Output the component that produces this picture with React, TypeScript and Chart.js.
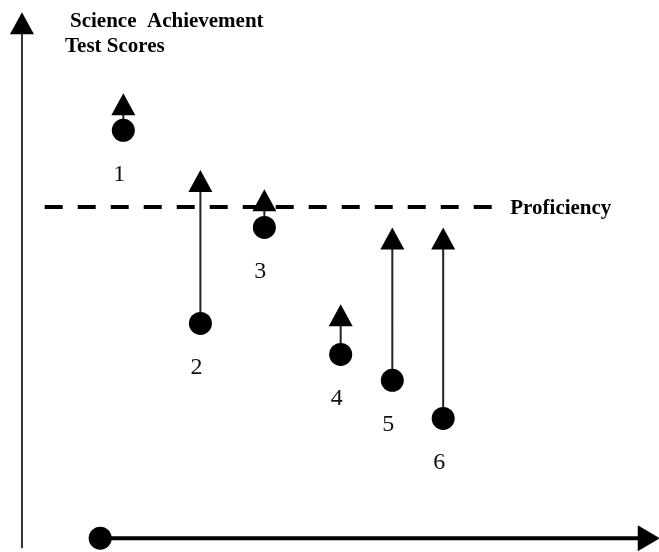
import React, { useEffect, useRef } from "react";
import { Chart, registerables } from "chart.js";

Chart.register(...registerables);

// ---- data ----
const students = ["1", "2", "3", "4", "5", "6"];
const studentX = [1, 2, 2.83, 3.82, 4.49, 5.15];
const startScores = [73.9, 38.9, 56.3, 33.3, 28.6, 21.7];
const targetScores = [80.6, 66.7, 63.2, 42.4, 56.3, 56.3];
const proficiency = 60;
const proficiencyLabel = "Proficiency";
const titleLines = ["Science  Achievement", "Test Scores"];

// axis extents (in data units)
const xMin = -0.6;
const xMax = 7.95;
const yMin = -2.5;
const yMax = 97.5;
const dashStartX = -0.02;
const dashEndX = 5.8;
const yAxisX = -0.315;
const yAxisBottom = -1.8;
const yAxisTop = 95.3;
const xAxisStart = 0.7;
const xAxisEnd = 7.96;

export default function App() {
  const ref = useRef<HTMLCanvasElement | null>(null);

  useEffect(() => {
    document.body.style.margin = "0";
    const canvas = ref.current;
    if (!canvas) return;

    const stemData: any[] = [];
    students.forEach((_, i) => {
      stemData.push({ x: studentX[i], y: startScores[i] });
      stemData.push({ x: studentX[i], y: targetScores[i] - 2.5 });
      stemData.push({ x: studentX[i], y: null });
    });

    const overlay = {
      id: "overlay",
      afterDatasetsDraw(chart: any) {
        const ctx = chart.ctx;
        const xs = chart.scales.x;
        const ys = chart.scales.y;
        ctx.save();
        ctx.fillStyle = "#000";

        const upHead = (px: number, py: number, w: number, h: number) => {
          ctx.beginPath();
          ctx.moveTo(px, py);
          ctx.lineTo(px + w / 2, py + h);
          ctx.lineTo(px - w / 2, py + h);
          ctx.closePath();
          ctx.fill();
        };

        // student arrowheads
        students.forEach((_, i) => {
          upHead(xs.getPixelForValue(studentX[i]), ys.getPixelForValue(targetScores[i]), 24, 22);
        });

        // y axis arrowhead
        upHead(xs.getPixelForValue(yAxisX), ys.getPixelForValue(yAxisTop), 24, 22);

        // x axis arrowhead (pointing right)
        const ax = xs.getPixelForValue(xAxisEnd);
        const ay = ys.getPixelForValue(0);
        ctx.beginPath();
        ctx.moveTo(ax, ay);
        ctx.lineTo(ax - 22, ay - 13);
        ctx.lineTo(ax - 22, ay + 13);
        ctx.closePath();
        ctx.fill();

        // student labels
        ctx.font = "24px 'Liberation Serif', 'Times New Roman', serif";
        ctx.textAlign = "center";
        ctx.textBaseline = "middle";
        ctx.fillStyle = "#111";
        students.forEach((s, i) => {
          const px = xs.getPixelForValue(studentX[i]);
          const py = ys.getPixelForValue(startScores[i]);
          ctx.fillText(s, px - 4, py + 44);
        });

        // proficiency label
        ctx.font = "bold 21px 'Liberation Serif', 'Times New Roman', serif";
        ctx.textAlign = "left";
        ctx.textBaseline = "alphabetic";
        ctx.fillStyle = "#000";
        ctx.fillText(proficiencyLabel, xs.getPixelForValue(dashEndX) + 17, ys.getPixelForValue(proficiency) + 7);

        // title
        ctx.fillText(titleLines[0], 70, 27);
        ctx.fillText(titleLines[1], 65, 52);

        ctx.restore();
      },
    };

    const chart = new Chart(canvas, {
      type: "scatter",
      data: {
        datasets: [
          {
            type: "scatter",
            data: students.map((_, i) => ({ x: studentX[i], y: startScores[i] })),
            backgroundColor: "#000",
            borderWidth: 0,
            pointRadius: 11.5,
            pointHoverRadius: 11.5,
          } as any,
          {
            type: "line",
            data: [
              { x: dashStartX, y: proficiency },
              { x: dashEndX, y: proficiency },
            ],
            borderColor: "#000",
            borderWidth: 4,
            borderDash: [18, 15],
            pointRadius: 0,
            fill: false,
          } as any,
          {
            type: "line",
            data: stemData,
            borderColor: "#222",
            borderWidth: 2,
            pointRadius: 0,
            spanGaps: false,
            fill: false,
          } as any,
          {
            type: "line",
            data: [
              { x: yAxisX, y: yAxisBottom },
              { x: yAxisX, y: yAxisTop - 3 },
            ],
            borderColor: "#333",
            borderWidth: 2,
            pointRadius: 0,
            fill: false,
          } as any,
          {
            type: "line",
            data: [
              { x: xAxisStart, y: 0 },
              { x: xAxisEnd - 0.2, y: 0 },
            ],
            borderColor: "#000",
            borderWidth: 4,
            pointRadius: [11.5, 0],
            pointBackgroundColor: "#000",
            pointBorderWidth: 0,
            fill: false,
            clip: false,
          } as any,
        ],
      },
      options: {
        animation: false,
        responsive: false,
        devicePixelRatio: 1,
        layout: { padding: 0, autoPadding: false },
        plugins: {
          legend: { display: false },
          tooltip: { enabled: false },
          title: { display: false },
        },
        scales: {
          x: { type: "linear", display: false, min: xMin, max: xMax },
          y: { type: "linear", display: false, min: yMin, max: yMax },
        },
      },
      plugins: [overlay],
    });

    return () => chart.destroy();
  }, []);

  return <canvas ref={ref} width={659} height={552} style={{ display: "block" }} />;
}
